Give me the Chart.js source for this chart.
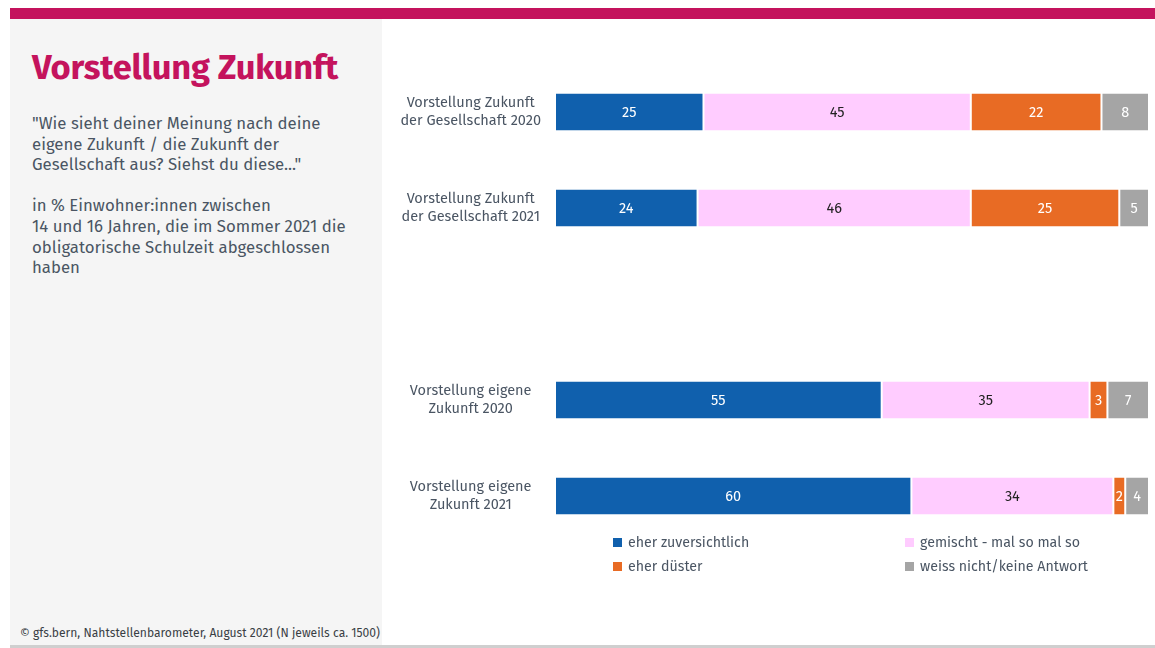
<!DOCTYPE html>
<html>
<head>
<meta charset="utf-8">
<script src="https://cdn.jsdelivr.net/npm/chart.js@4"></script>
<style>
  body { margin: 0; background: #fff; font-family: "Fira Sans", "Open Sans", sans-serif; color: #4a5563; }
  .topbar { position: absolute; left: 10px; top: 8px; width: 1145px; height: 11px; background: #c4135d; }
  .panel { position: absolute; left: 10px; top: 19px; width: 372px; height: 626px; background: #f5f5f5; }
  .bottomline { position: absolute; left: 10px; top: 645px; width: 1145px; height: 3px; background: #cfcfcf; }
  h1 { position: absolute; left: 32px; top: 47px; margin: 0; font-size: 34.5px; font-weight: 700; color: #c4135d; letter-spacing: -0.2px; }
  .intro { position: absolute; left: 32px; top: 113px; font-size: 16.8px; line-height: 20.6px; color: #4a5563; }
  .source { position: absolute; left: 20px; top: 626px; font-size: 12.1px; color: #3a3f45; }
  #chart { position: absolute; left: 382px; top: 19px; }
  #legend { position: absolute; left: 613px; top: 532px; display: grid; grid-template-columns: 292px 292px; row-gap: 4px; font-size: 14.2px; }
  #legend div { display: flex; align-items: center; height: 20px; }
  #legend span.box { display: inline-block; width: 9px; height: 9px; margin-right: 6px; }
</style>
</head>
<body>
<div class="topbar"></div>
<div class="panel"></div>
<div class="bottomline"></div>
<h1>Vorstellung Zukunft</h1>
<div class="intro">"Wie sieht deiner Meinung nach deine<br>eigene Zukunft / die Zukunft der<br>Gesellschaft aus? Siehst du diese..."<br><br>in % Einwohner:innen zwischen<br>14 und 16 Jahren, die im Sommer 2021 die<br>obligatorische Schulzeit abgeschlossen<br>haben</div>
<div class="source">© gfs.bern, Nahtstellenbarometer, August 2021 (N jeweils ca. 1500)</div>
<canvas id="chart" width="773" height="626"></canvas>
<div id="legend"></div>
<script>
const categories = [
    ['Vorstellung Zukunft', 'der Gesellschaft 2020'],
    ['Vorstellung Zukunft', 'der Gesellschaft 2021'],
    '',
    ['Vorstellung eigene', 'Zukunft 2020'],
    ['Vorstellung eigene', 'Zukunft 2021']
];
const zuversichtlich = [25, 24, null, 55, 60];
const gemischt = [45, 46, null, 35, 34];
const duester = [22, 25, null, 3, 2];
const weissNicht = [8, 5, null, 7, 4];

const seriesNames = ['eher zuversichtlich', 'gemischt - mal so mal so', 'eher düster', 'weiss nicht/keine Antwort'];
const seriesColors = ['#1060ad', '#ffccff', '#e86b24', '#a5a5a5'];
const labelColors = ['#ffffff', '#222222', '#ffffff', '#ffffff'];
const seriesData = [zuversichtlich, gemischt, duester, weissNicht];

const FONT = '"Fira Sans", "Open Sans", sans-serif';

// value labels in the middle of each segment
const barLabels = {
    id: 'barLabels',
    afterDatasetsDraw(chart) {
        const ctx = chart.ctx;
        ctx.save();
        ctx.font = '14.5px ' + FONT;
        ctx.textAlign = 'center';
        ctx.textBaseline = 'middle';
        chart.data.datasets.forEach((ds, i) => {
            chart.getDatasetMeta(i).data.forEach((bar, j) => {
                const v = ds.data[j];
                if (v == null) return;
                const p = bar.getCenterPoint();
                ctx.fillStyle = labelColors[i];
                ctx.fillText(v, p.x, p.y + 1);
            });
        });
        ctx.restore();
    }
};

const chart = new Chart(document.getElementById('chart'), {
    type: 'bar',
    data: {
        labels: categories,
        datasets: seriesData.map((d, i) => ({
            label: seriesNames[i],
            data: d,
            backgroundColor: seriesColors[i],
            borderColor: '#ffffff',
            borderWidth: 1,
            borderSkipped: false,
            barPercentage: 1,
            categoryPercentage: 0.4
        }))
    },
    options: {
        indexAxis: 'y',
        responsive: false,
        animation: false,
        layout: { padding: { top: 45, right: 6, bottom: 101, left: 0 } },
        plugins: {
            legend: { display: false },
            tooltip: { enabled: false }
        },
        scales: {
            x: { stacked: true, min: 0, max: 100, display: false },
            y: {
                stacked: true,
                grid: { display: false },
                border: { display: false },
                ticks: {
                    crossAlign: 'center',
                    padding: 6,
                    color: '#4a5563',
                    font: { family: FONT, size: 14.5, lineHeight: 1.3 }
                },
                afterFit: (scale) => { scale.width = 173; }
            }
        }
    },
    plugins: [barLabels]
});

const legend = document.getElementById('legend');
[0, 1, 2, 3].forEach(i => {
    const item = document.createElement('div');
    item.innerHTML = '<span class="box" style="background:' + seriesColors[i] + '"></span>' + seriesNames[i];
    legend.appendChild(item);
});
</script>
</body>
</html>
